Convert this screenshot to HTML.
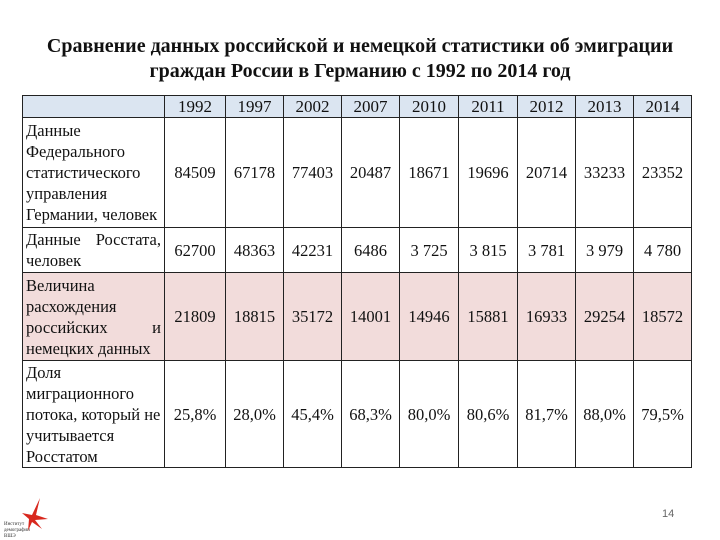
<!DOCTYPE html>
<html><head><meta charset="utf-8">
<style>
body{margin:0;width:720px;height:540px;background:#fff;position:relative;overflow:hidden;font-family:"Liberation Serif",serif;}
h1{position:absolute;left:0;top:34px;width:720px;margin:0;text-align:center;font-size:20px;line-height:25px;font-weight:bold;color:#111;}
table{position:absolute;left:22px;top:95px;border-collapse:collapse;table-layout:fixed;font-size:16.5px;color:#111;}
td{border:1px solid #222;padding:0 2px;text-align:center;vertical-align:middle;line-height:21px;overflow:hidden;white-space:nowrap;}
td.lbl{text-align:justify;text-align-last:left;padding:0 3px;white-space:normal;}
tr.hdr td{background:#dbe5f1;height:21px;font-size:17px;}
tr.pink td{background:#f2dcdb;}
.num{position:absolute;left:662px;top:508px;font-family:"Liberation Sans",sans-serif;font-size:11px;color:#666;}
.logo{position:absolute;left:2px;top:495px;width:50px;height:45px;}
</style></head><body>
<h1>Сравнение данных российской и немецкой статистики об эмиграции<br>граждан России в Германию с 1992 по 2014 год</h1>
<table>
<colgroup><col style="width:142px"><col style="width:61px"><col style="width:58px"><col style="width:58px"><col style="width:58px"><col style="width:59px"><col style="width:59px"><col style="width:58px"><col style="width:58px"><col style="width:58px"></colgroup>
<tr class="hdr"><td></td><td>1992</td><td>1997</td><td>2002</td><td>2007</td><td>2010</td><td>2011</td><td>2012</td><td>2013</td><td>2014</td></tr>
<tr style="height:110px"><td class="lbl" style="text-align:left">Данные<br>Федерального<br>статистического<br>управления<br>Германии, человек</td><td>84509</td><td>67178</td><td>77403</td><td>20487</td><td>18671</td><td>19696</td><td>20714</td><td>33233</td><td>23352</td></tr>
<tr style="height:45px"><td class="lbl">Данные Росстата, человек</td><td>62700</td><td>48363</td><td>42231</td><td>6486</td><td>3 725</td><td>3 815</td><td>3 781</td><td>3 979</td><td>4 780</td></tr>
<tr class="pink" style="height:88px"><td class="lbl">Величина<br>расхождения<br><span style="display:block;text-align-last:justify">российских и</span>немецких данных</td><td>21809</td><td>18815</td><td>35172</td><td>14001</td><td>14946</td><td>15881</td><td>16933</td><td>29254</td><td>18572</td></tr>
<tr style="height:107px"><td class="lbl" style="text-align:left">Доля<br>миграционного<br>потока, который не<br>учитывается<br>Росстатом</td><td>25,8%</td><td>28,0%</td><td>45,4%</td><td>68,3%</td><td>80,0%</td><td>80,6%</td><td>81,7%</td><td>88,0%</td><td>79,5%</td></tr>
</table>
<svg class="logo" viewBox="0 0 50 45">
<path d="M38 3 L34 20 L46 24 L33 25 L40 34 L30 27 L26 36 L27 24 L20 18 L30 20 Z" fill="#d8281e"/>
<text x="2" y="30" font-size="5" fill="#333" font-family="Liberation Serif">Институт</text>
<text x="2" y="36" font-size="5" fill="#333" font-family="Liberation Serif">демографии</text>
<text x="2" y="42" font-size="5" fill="#333" font-family="Liberation Serif">ВШЭ</text>
</svg>
<div class="num">14</div>
</body></html>
